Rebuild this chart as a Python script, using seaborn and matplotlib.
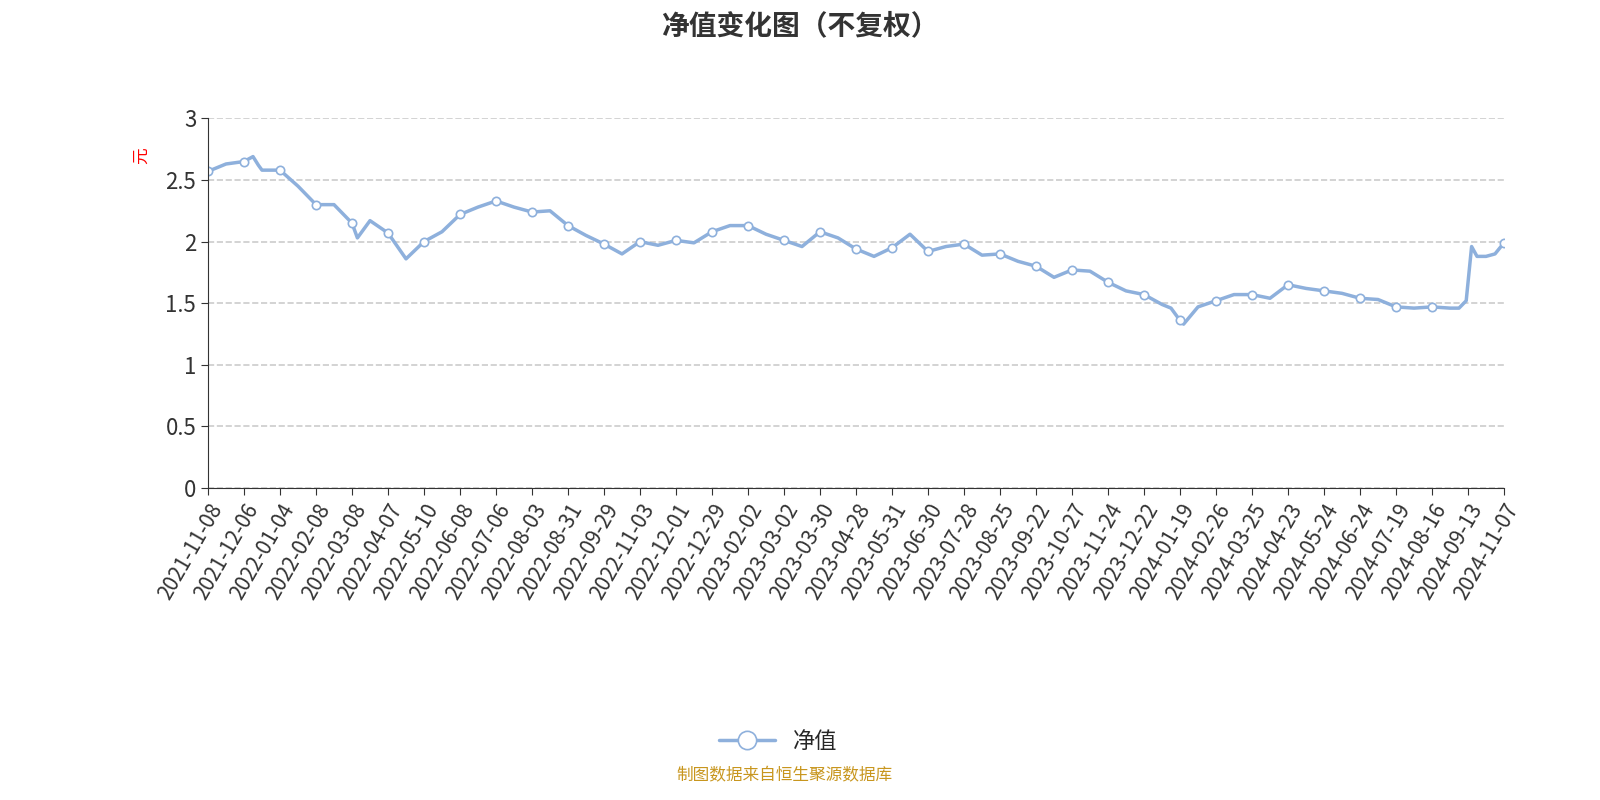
import numpy as np
import matplotlib.pyplot as plt
import seaborn as sns
import pandas as pd

# 刻度标签（每20个交易日一个）
tick_labels = ['2021-11-08', '2021-12-06', '2022-01-04', '2022-02-08', '2022-03-08', '2022-04-07',
               '2022-05-10', '2022-06-08', '2022-07-06', '2022-08-03', '2022-08-31', '2022-09-29',
               '2022-11-03', '2022-12-01', '2022-12-29', '2023-02-02', '2023-03-02', '2023-03-30',
               '2023-04-28', '2023-05-31', '2023-06-30', '2023-07-28', '2023-08-25', '2023-09-22',
               '2023-10-27', '2023-11-24', '2023-12-22', '2024-01-19', '2024-02-26', '2024-03-25',
               '2024-04-23', '2024-05-24', '2024-06-24', '2024-07-19', '2024-08-16', '2024-09-13',
               '2024-11-07']
tick_pos = list(range(0, 701, 20)) + [720]

# 净值（按交易日序号读取）
day_idx = [0, 10, 20, 25, 28, 30, 40, 50, 60, 70, 80, 83, 90, 100, 110, 120, 130, 140, 150, 160,
           170, 180, 190, 200, 210, 220, 230, 240, 250, 260, 270, 280, 290, 300, 310, 320,
           330, 340, 350, 360, 370, 380, 390, 400, 410, 420, 430, 440, 450, 460, 470, 480,
           490, 500, 510, 520, 530, 535, 540, 542, 550, 560, 570, 580, 590, 600, 610, 620,
           630, 640, 650, 660, 670, 680, 690, 695, 699, 702, 705, 710, 715, 720]
nav = [2.57, 2.63, 2.65, 2.69, 2.62, 2.58, 2.58, 2.45, 2.30, 2.30, 2.15, 2.03, 2.17, 2.07, 1.86,
       2.00, 2.08, 2.22, 2.28, 2.33, 2.28, 2.24, 2.25, 2.13, 2.05, 1.98, 1.90, 2.00, 1.97, 2.01,
       1.99, 2.08, 2.13, 2.13, 2.06, 2.01, 1.96, 2.08, 2.03, 1.94, 1.88, 1.95, 2.06, 1.92, 1.96,
       1.98, 1.89, 1.90, 1.84, 1.80, 1.71, 1.77, 1.76, 1.67, 1.60, 1.57, 1.49, 1.46, 1.36, 1.33,
       1.47, 1.52, 1.57, 1.57, 1.54, 1.65, 1.62, 1.60, 1.58, 1.54, 1.53, 1.47, 1.46, 1.47, 1.46,
       1.46, 1.52, 1.96, 1.88, 1.88, 1.90, 1.99]

df = pd.DataFrame({'idx': day_idx, 'nav': nav})
mark_idx = [i for i, d in enumerate(day_idx) if d in tick_pos]

sns.set_style('white')
plt.rcParams['font.family'] = ['Noto Sans CJK SC', 'DejaVu Sans']

fig, ax = plt.subplots(figsize=(16, 8), dpi=100)
fig.subplots_adjust(left=0.13, right=0.94, top=0.852, bottom=0.39)
color = '#8eb0dc'
sns.lineplot(data=df, x='idx', y='nav', ax=ax, color=color, linewidth=2.5,
             marker='o', markevery=mark_idx, markersize=6, markerfacecolor='white',
             markeredgecolor=color, markeredgewidth=1.2, label='净值')

ax.set_xlim(0, 720)
ax.set_ylim(0, 3)
ax.set_yticks([0, 0.5, 1, 1.5, 2, 2.5, 3])
ax.set_yticklabels(['0', '0.5', '1', '1.5', '2', '2.5', '3'], fontsize=16, color='#333333')
ax.set_xticks(tick_pos)
ax.set_xticklabels(tick_labels, rotation=60, ha='right', rotation_mode='anchor', fontsize=15, color='#333333')
ax.tick_params(axis='both', length=5, color='#333333', direction='out', bottom=True, left=True)
ax.yaxis.grid(True, linestyle='--', color='#cccccc', linewidth=1.2)
for s in ['top', 'right']:
    ax.spines[s].set_visible(False)
ax.spines['left'].set_color('#333333')
ax.spines['bottom'].set_color('#333333')
ax.set_xlabel('')
ax.set_ylabel('元', color='red', fontsize=12, rotation=90)
ax.yaxis.set_label_coords(-0.045, 0.9)

fig.suptitle('净值变化图（不复权）', fontsize=20, fontweight='bold', color='#333333', y=0.985)
leg = ax.legend(loc='upper center', bbox_to_anchor=(0.44, -0.6), frameon=False, fontsize=16,
                handlelength=2.5, markerscale=2.2)
fig.text(0.49, 0.025, '制图数据来自恒生聚源数据库', ha='center', color='#c8961e', fontsize=12)

fig.savefig('out.png')
